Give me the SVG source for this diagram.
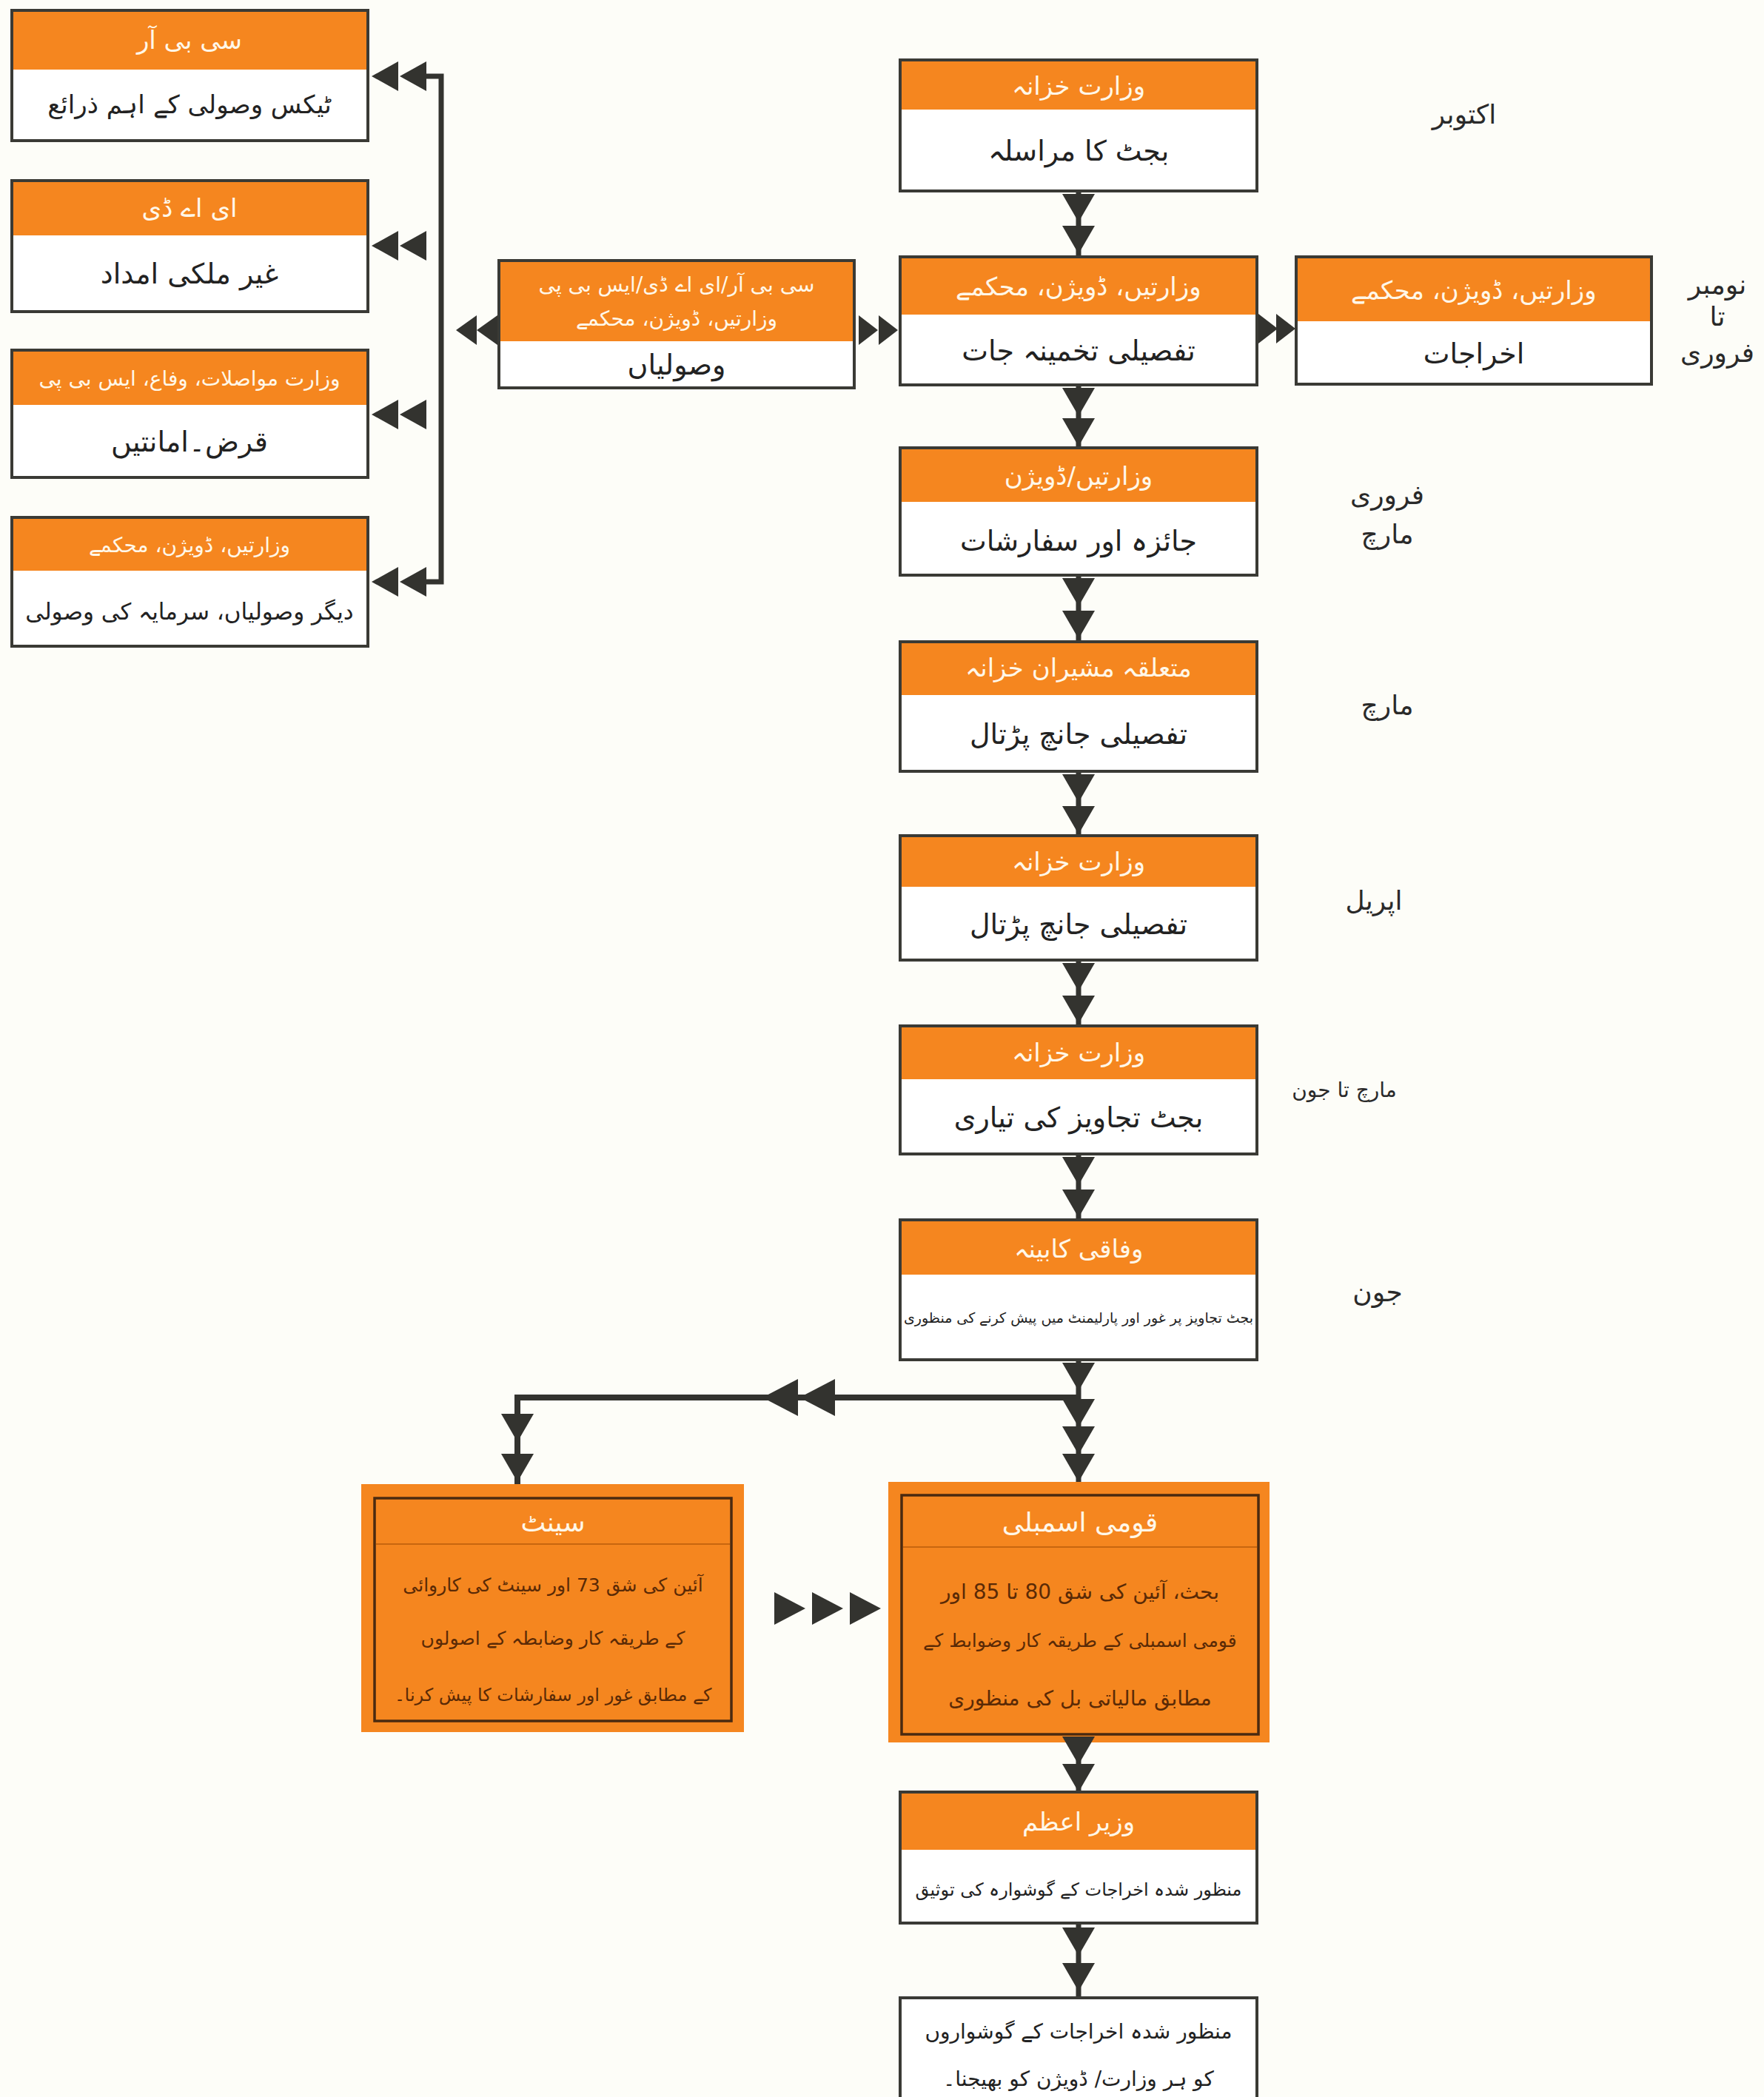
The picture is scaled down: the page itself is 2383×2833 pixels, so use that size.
<svg xmlns="http://www.w3.org/2000/svg" xmlns:xlink="http://www.w3.org/1999/xlink" width="2383" height="2833" viewBox="0 0 2383 2833">
<style>
.bg{fill:#FDFDF8}
.box{fill:#FFFFFF}
.hd{fill:#F5861F}
.frame{fill:none;stroke:#3A3A35;stroke-width:4}
.ofill{fill:#F5861F}
.oframe{fill:none;stroke:#4A2A10;stroke-width:3.5}
.osep{stroke:#C8660F;stroke-width:2}
text{font-family:"DejaVu Sans","Noto Sans",sans-serif;direction:rtl;text-anchor:middle;dominant-baseline:central}
.ht{fill:#FFF7E8;font-size:34px}
.hts{fill:#FFF7E8;font-size:28px}
.bt{fill:#222222;font-size:38px}
.bts{fill:#222222;font-size:24px}
.ot{fill:#5A2A06;font-size:25px}
.oh{fill:#FFF7E8;font-size:36px}
.mt{fill:#2A2A2A;font-size:36px}
.ln{fill:none;stroke:#33332F;stroke-width:7}
.tri{fill:#33332F}
</style>
<defs>
<path id="td" d="M-22,0 H22 L0,38 Z"/>
<path id="tl" d="M0,0 L36,-20 V20 Z"/>
<path id="tls" d="M0,0 L28,-20 V20 Z"/>
<path id="trs" d="M0,0 L-26,-20 V20 Z"/>
<path id="tlb" d="M0,0 L48,-25 V25 Z"/>
<path id="trb" d="M0,0 L-42,-22 V22 Z"/>
</defs>
<rect class="bg" x="0" y="0" width="2383" height="2833"/>

<g id="connectors">
<path class="ln" d="M576,103 H596 V786 H576"/>
<g class="tri">
<use href="#tl" x="502" y="103"/><use href="#tl" x="540" y="103"/>
<use href="#tl" x="502" y="332"/><use href="#tl" x="540" y="332"/>
<use href="#tl" x="502" y="560"/><use href="#tl" x="540" y="560"/>
<use href="#tl" x="502" y="786"/><use href="#tl" x="540" y="786"/>
<use href="#tls" x="616" y="446"/><use href="#tls" x="644" y="446"/>
<use href="#trs" x="1186" y="446"/><use href="#trs" x="1213" y="446"/>
<use href="#trs" x="1726" y="444"/><use href="#trs" x="1750" y="444"/>
</g>
<path class="ln" d="M1457,258 V347 M1457,520 V605 M1457,777 V867 M1457,1042 V1129 M1457,1297 V1386 M1457,1559 V1648 M1457,1837 V2002 M1457,2354 V2421 M1457,2598 V2699"/>
<path class="ln" d="M1457,1888 H699 V2005" style="stroke-width:8"/>
<g class="tri">
<use href="#td" x="1457" y="262"/><use href="#td" x="1457" y="305"/>
<use href="#td" x="1457" y="524"/><use href="#td" x="1457" y="565"/>
<use href="#td" x="1457" y="781"/><use href="#td" x="1457" y="825"/>
<use href="#td" x="1457" y="1046"/><use href="#td" x="1457" y="1089"/>
<use href="#td" x="1457" y="1301"/><use href="#td" x="1457" y="1345"/>
<use href="#td" x="1457" y="1563"/><use href="#td" x="1457" y="1607"/>
<use href="#td" x="1457" y="1841"/>
<use href="#td" x="1457" y="1890"/><use href="#td" x="1457" y="1927"/><use href="#td" x="1457" y="1964"/>
<use href="#td" x="699" y="1910"/><use href="#td" x="699" y="1964"/>
<use href="#tlb" x="1030" y="1888"/><use href="#tlb" x="1080" y="1888"/>
<use href="#trb" x="1088" y="2173"/><use href="#trb" x="1139" y="2173"/><use href="#trb" x="1190" y="2173"/>
<use href="#td" x="1457" y="2604"/><use href="#td" x="1457" y="2652"/>
</g>
</g>

<g id="n-cbr">
<rect class="box" x="16" y="14" width="481" height="176"/><rect class="hd" x="16" y="14" width="481" height="80"/><rect class="frame" x="16" y="14" width="481" height="176"/>
<text class="ht" x="256" y="54">سی بی آر</text>
<text class="bt" x="256" y="141" style="font-size:34px">ٹیکس وصولی کے اہم ذرائع</text>
</g>
<g id="n-ead">
<rect class="box" x="16" y="244" width="481" height="177"/><rect class="hd" x="16" y="244" width="481" height="74"/><rect class="frame" x="16" y="244" width="481" height="177"/>
<text class="ht" x="256" y="281">ای اے ڈی</text>
<text class="bt" x="256" y="370">غیر ملکی امداد</text>
</g>
<g id="n-loans">
<rect class="box" x="16" y="473" width="481" height="172"/><rect class="hd" x="16" y="473" width="481" height="74"/><rect class="frame" x="16" y="473" width="481" height="172"/>
<text class="hts" x="256" y="511">وزارت مواصلات، وفاع، ایس بی پی</text>
<text class="bt" x="256" y="597">قرض۔امانتیں</text>
</g>
<g id="n-other">
<rect class="box" x="16" y="699" width="481" height="174"/><rect class="hd" x="16" y="699" width="481" height="72"/><rect class="frame" x="16" y="699" width="481" height="174"/>
<text class="hts" x="256" y="736">وزارتیں، ڈویژن، محکمے</text>
<text class="bt" x="256" y="826" style="font-size:31px">دیگر وصولیاں، سرمایہ کی وصولی</text>
</g>

<g id="n-receipts">
<rect class="box" x="674" y="352" width="480" height="172"/><rect class="hd" x="674" y="352" width="480" height="109"/><rect class="frame" x="674" y="352" width="480" height="172"/>
<text class="hts" x="914" y="384">سی بی آر/ای اے ڈی/ایس بی پی</text>
<text class="hts" x="914" y="430">وزارتیں، ڈویژن، محکمے</text>
<text class="bt" x="914" y="493">وصولیاں</text>
</g>

<g id="n-expend">
<rect class="box" x="1751" y="347" width="480" height="172"/><rect class="hd" x="1751" y="347" width="480" height="87"/><rect class="frame" x="1751" y="347" width="480" height="172"/>
<text class="ht" x="1991" y="392">وزارتیں، ڈویژن، محکمے</text>
<text class="bt" x="1991" y="478">اخراجات</text>
</g>

<g id="n-a">
<rect class="box" x="1216" y="81" width="482" height="177"/><rect class="hd" x="1216" y="81" width="482" height="67"/><rect class="frame" x="1216" y="81" width="482" height="177"/>
<text class="ht" x="1457" y="116">وزارت خزانہ</text>
<text class="bt" x="1457" y="204">بجٹ کا مراسلہ</text>
</g>
<g id="n-b">
<rect class="box" x="1216" y="347" width="482" height="173"/><rect class="hd" x="1216" y="347" width="482" height="78"/><rect class="frame" x="1216" y="347" width="482" height="173"/>
<text class="ht" x="1457" y="387">وزارتیں، ڈویژن، محکمے</text>
<text class="bt" x="1457" y="474">تفصیلی تخمینہ جات</text>
</g>
<g id="n-c">
<rect class="box" x="1216" y="605" width="482" height="172"/><rect class="hd" x="1216" y="605" width="482" height="73"/><rect class="frame" x="1216" y="605" width="482" height="172"/>
<text class="ht" x="1457" y="643">وزارتیں/ڈویژن</text>
<text class="bt" x="1457" y="731">جائزہ اور سفارشات</text>
</g>
<g id="n-d">
<rect class="box" x="1216" y="867" width="482" height="175"/><rect class="hd" x="1216" y="867" width="482" height="72"/><rect class="frame" x="1216" y="867" width="482" height="175"/>
<text class="ht" x="1457" y="902">متعلقہ مشیران خزانہ</text>
<text class="bt" x="1457" y="992">تفصیلی جانچ پڑتال</text>
</g>
<g id="n-e">
<rect class="box" x="1216" y="1129" width="482" height="168"/><rect class="hd" x="1216" y="1129" width="482" height="69"/><rect class="frame" x="1216" y="1129" width="482" height="168"/>
<text class="ht" x="1457" y="1164">وزارت خزانہ</text>
<text class="bt" x="1457" y="1249">تفصیلی جانچ پڑتال</text>
</g>
<g id="n-f">
<rect class="box" x="1216" y="1386" width="482" height="173"/><rect class="hd" x="1216" y="1386" width="482" height="72"/><rect class="frame" x="1216" y="1386" width="482" height="173"/>
<text class="ht" x="1457" y="1422">وزارت خزانہ</text>
<text class="bt" x="1457" y="1510">بجٹ تجاویز کی تیاری</text>
</g>
<g id="n-g">
<rect class="box" x="1216" y="1648" width="482" height="189"/><rect class="hd" x="1216" y="1648" width="482" height="74"/><rect class="frame" x="1216" y="1648" width="482" height="189"/>
<text class="ht" x="1457" y="1687">وفاقی کابینہ</text>
<text class="bts" x="1457" y="1780" style="font-size:19px">بجٹ تجاویز پر غور اور پارلیمنٹ میں پیش کرنے کی منظوری</text>
</g>

<g id="n-senate">
<rect class="ofill" x="488" y="2005" width="517" height="335"/>
<rect class="oframe" x="506" y="2024" width="482" height="301"/>
<line class="osep" x1="508" y1="2086" x2="986" y2="2086"/>
<text class="oh" x="747" y="2056">سینٹ</text>
<text class="ot" x="747" y="2141">آئین کی شق 73 اور سینٹ کی کاروائی</text>
<text class="ot" x="747" y="2213">کے طریقہ کار وضابطہ کے اصولوں</text>
<text class="ot" x="747" y="2290" style="font-size:24px">کے مطابق غور اور سفارشات کا پیش کرنا۔</text>
</g>

<g id="n-na">
<rect class="ofill" x="1200" y="2002" width="515" height="352"/>
<rect class="oframe" x="1218" y="2020" width="482" height="323"/>
<line class="osep" x1="1220" y1="2090" x2="1698" y2="2090"/>
<text class="oh" x="1459" y="2056">قومی اسمبلی</text>
<text class="ot" x="1459" y="2150" style="font-size:28px">بحث، آئین کی شق 80 تا 85 اور</text>
<text class="ot" x="1459" y="2216">قومی اسمبلی کے طریقہ کار وضوابط کے</text>
<text class="ot" x="1459" y="2294" style="font-size:28px">مطابق مالیاتی بل کی منظوری</text>
</g>
<g class="tri"><use href="#td" x="1457" y="2346"/><use href="#td" x="1457" y="2383"/></g>

<g id="n-pm">
<rect class="box" x="1216" y="2421" width="482" height="177"/><rect class="hd" x="1216" y="2421" width="482" height="78"/><rect class="frame" x="1216" y="2421" width="482" height="177"/>
<text class="ht" x="1457" y="2461">وزیر اعظم</text>
<text class="bts" x="1457" y="2553" style="font-size:24px">منظور شدہ اخراجات کے گوشوارہ کی توثیق</text>
</g>
<g id="n-final">
<rect class="box" x="1216" y="2699" width="482" height="170"/><rect class="frame" x="1216" y="2699" width="482" height="170"/>
<text class="bts" x="1457" y="2744" style="font-size:28px">منظور شدہ اخراجات کے گوشواروں</text>
<text class="bts" x="1457" y="2808" style="font-size:28px">کو ہر وزارت/ ڈویژن کو بھیجنا۔</text>
</g>

<g id="months">
<text class="mt" x="1978" y="154">اکتوبر</text>
<text class="mt" x="2320" y="384">نومبر</text>
<text class="mt" x="2320" y="427">تا</text>
<text class="mt" x="2320" y="476">فروری</text>
<text class="mt" x="1874" y="668">فروری</text>
<text class="mt" x="1874" y="721">مارچ</text>
<text class="mt" x="1874" y="952">مارچ</text>
<text class="mt" x="1856" y="1216">اپریل</text>
<text class="mt" x="1816" y="1472" style="font-size:28px">مارچ تا جون</text>
<text class="mt" x="1861" y="1745">جون</text>
</g>
</svg>
